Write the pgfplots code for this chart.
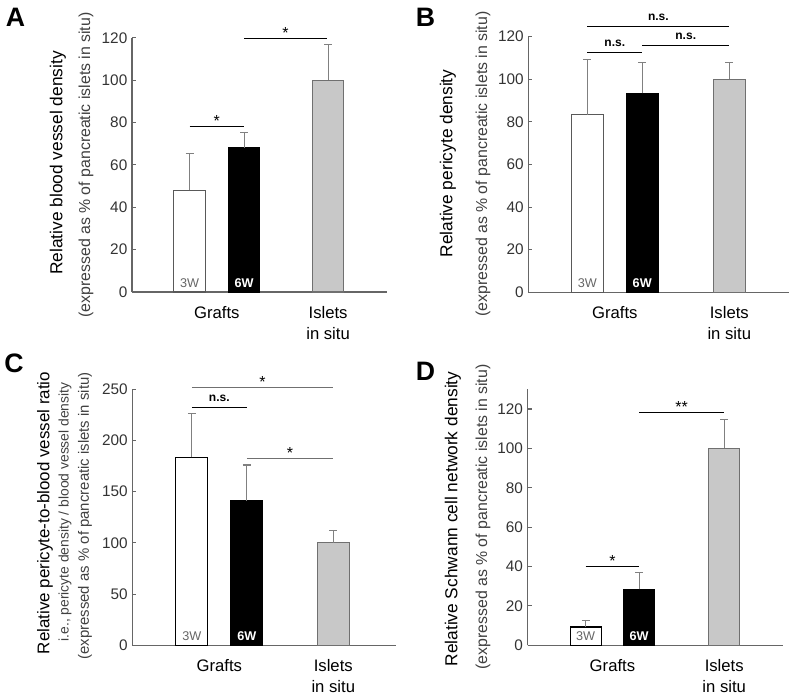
\documentclass[border=0pt]{standalone}
\usepackage{fontspec}
\setmainfont{Liberation Sans}
\usepackage{pgfplots}
\pgfplotsset{compat=1.18}

\definecolor{axisgray}{HTML}{666666}
\definecolor{barfill}{HTML}{C8C8C8}
\definecolor{baredge}{HTML}{707070}
\definecolor{errgray}{HTML}{808080}

\pgfplotsset{
  panel/.style={
    scale only axis, anchor=south west, clip=false,
    axis lines=left, axis line style={-, axisgray, line width=0.8pt},
    ymin=0, xtick=\empty,
    tick align=inside, major tick length=3pt,
    y tick style={axisgray, line width=0.8pt},
    tick label style={font=\fontsize{11.5}{13}\selectfont, text=black!80},
    /pgf/number format/assume math mode=true,
    ybar, bar shift=0pt, bar width=0.58,
    error bars/y dir=plus, error bars/y explicit,
    error bars/error mark=|,
    error bars/error bar style={errgray, line width=0.8pt},
    error bars/error mark options={errgray, line width=0.8pt, mark size=3pt},
  },
  w3/.style={fill=white, draw=black!65, line width=0.8pt},
  w6/.style={fill=black, draw=black, line width=0.8pt},
  isl/.style={fill=barfill, draw=baredge, line width=0.8pt},
}
\newcommand{\barlabels}[1]{%
  \node[anchor=base, inner sep=0pt, font=\fontsize{9.5}{10}\selectfont, text=black!60] at (axis cs:1,0) [yshift=3.4pt] {3W};
  \node[anchor=base, inner sep=0pt, font=\fontsize{9.5}{10}\selectfont\bfseries, text=white] at (axis cs:2,0) [yshift=3.4pt] {6W};
  \node[anchor=north, inner sep=0pt, font=\fontsize{12.5}{15}\selectfont] at (axis cs:1.5,0) [yshift=-10.5pt] {Grafts};
  \node[anchor=north, inner sep=0pt, align=center, font=\fontsize{12.5}{15.75}\selectfont] at (axis cs:#1,0) [yshift=-10.5pt] {Islets\\in situ};
}
\newcommand{\sig}[5]{% x1, x2, y, text, colour
  \draw[#5, line width=0.8pt] (axis cs:#1,#3) -- (axis cs:#2,#3);
  \node[anchor=base, inner sep=0pt, font=\fontsize{12}{12}\selectfont] at (axis cs:{(#1+#2)/2},#3) {#4};
}
\newcommand{\ns}[3]{% x1, x2, y
  \draw[black, line width=0.8pt] (axis cs:#1,#3) -- (axis cs:#2,#3);
  \node[anchor=base, inner sep=0pt, font=\fontsize{9}{9}\selectfont\bfseries] at (axis cs:{(#1+#2)/2},#3) [yshift=4.4pt] {n.s.};
}

\begin{document}
\begin{tikzpicture}[x=0.75pt, y=-0.75pt]
\path[use as bounding box] (0,0) rectangle (792,696);
\coordinate (oA) at (132,292);
\coordinate (oB) at (528.3,292.3);
\coordinate (oC) at (132.3,645.3);
\coordinate (oD) at (527.7,645.3);

% panel letters
\node[inner sep=0pt, font=\fontsize{20}{20}\selectfont\bfseries] at (15.5,17) {A};
\node[inner sep=0pt, font=\fontsize{20}{20}\selectfont\bfseries] at (425.5,17) {B};
\node[inner sep=0pt, font=\fontsize{20}{20}\selectfont\bfseries] at (14,363) {C};
\node[inner sep=0pt, font=\fontsize{20}{20}\selectfont\bfseries] at (425.5,371) {D};

% y labels
\node[rotate=90, inner sep=0pt, font=\fontsize{13}{14}\selectfont] at (58,163) {Relative blood vessel density};
\node[rotate=90, inner sep=0pt, font=\fontsize{11.9}{13}\selectfont, text=black!75] at (86,165) {(expressed as \% of pancreatic islets in situ)};
\node[rotate=90, inner sep=0pt, font=\fontsize{13}{14}\selectfont] at (448,163.5) {Relative pericyte density};
\node[rotate=90, inner sep=0pt, font=\fontsize{11.9}{13}\selectfont, text=black!75] at (483,164) {(expressed as \% of pancreatic islets in situ)};
\node[rotate=90, inner sep=0pt, font=\fontsize{12.7}{14}\selectfont] at (45,513) {Relative pericyte-to-blood vessel ratio};
\node[rotate=90, inner sep=0pt, font=\fontsize{10.4}{12}\selectfont, text=black!75] at (65,512) {i.e., pericyte density / blood vessel density};
\node[rotate=90, inner sep=0pt, font=\fontsize{11.2}{13}\selectfont, text=black!75] at (85,516) {(expressed as \% of pancreatic islets in situ)};
\node[rotate=90, inner sep=0pt, font=\fontsize{13}{14}\selectfont] at (453,519) {Relative Schwann cell network density};
\node[rotate=90, inner sep=0pt, font=\fontsize{11.9}{13}\selectfont, text=black!75] at (483,517) {(expressed as \% of pancreatic islets in situ)};

% A
\begin{axis}[panel, at={(oA)}, width=191.25pt, height=190.7pt,
  xmin=-0.055, xmax=4.62, ymax=120, ytick={0,20,...,120}]
\addplot[w3] coordinates {(1,48) +- (0,17.4)};
\addplot[w6] coordinates {(2,68) +- (0,7.3)};
\addplot[isl] coordinates {(3.54,100) +- (0,16.8)};
\barlabels{3.54}
\sig{1}{2}{78.3}{*}{black}
\sig{2}{3.52}{119.6}{*}{black}
\end{axis}

% B
\begin{axis}[panel, at={(oB)}, width=195.5pt, height=191.7pt,
  xmin=-0.08, xmax=4.68, ymax=120, ytick={0,20,...,120}]
\addplot[w3] coordinates {(1,83.4) +- (0,26)};
\addplot[w6] coordinates {(2,93.4) +- (0,14.5)};
\addplot[isl] coordinates {(3.59,100) +- (0,8)};
\barlabels{3.59}
\ns{1}{2}{112.5}
\ns{2}{3.59}{116}
\ns{1}{3.59}{125}
\end{axis}

% C
\begin{axis}[panel, at={(oC)}, width=197.8pt, height=192pt,
  xmin=-0.08, xmax=4.71, ymax=250, ytick={0,50,...,250}]
\addplot[w3, draw=black] coordinates {(1,183.6) +- (0,43)};
\addplot[w6] coordinates {(2,141.3) +- (0,34.8)};
\addplot[isl] coordinates {(3.57,100) +- (0,12)};
\barlabels{3.57}
\sig{1}{3.57}{251.6}{*}{baredge}
\ns{1}{2}{232}
\sig{2}{3.57}{182.6}{*}{baredge}
\end{axis}

% D
\begin{axis}[panel, at={(oD)}, width=191.5pt, height=192pt,
  xmin=-0.084, xmax=4.69, ymax=130, ytick={0,20,...,120}]
\addplot[w3, draw=black] coordinates {(1,9.3) +- (0,3.4)};
\addplot[w6] coordinates {(2,28.4) +- (0,8.6)};
\addplot[isl] coordinates {(3.59,100) +- (0,14.6)};
\barlabels{3.59}
\sig{1}{2}{40}{*}{black}
\sig{2}{3.59}{118}{**}{black}
\end{axis}
\end{tikzpicture}
\end{document}
